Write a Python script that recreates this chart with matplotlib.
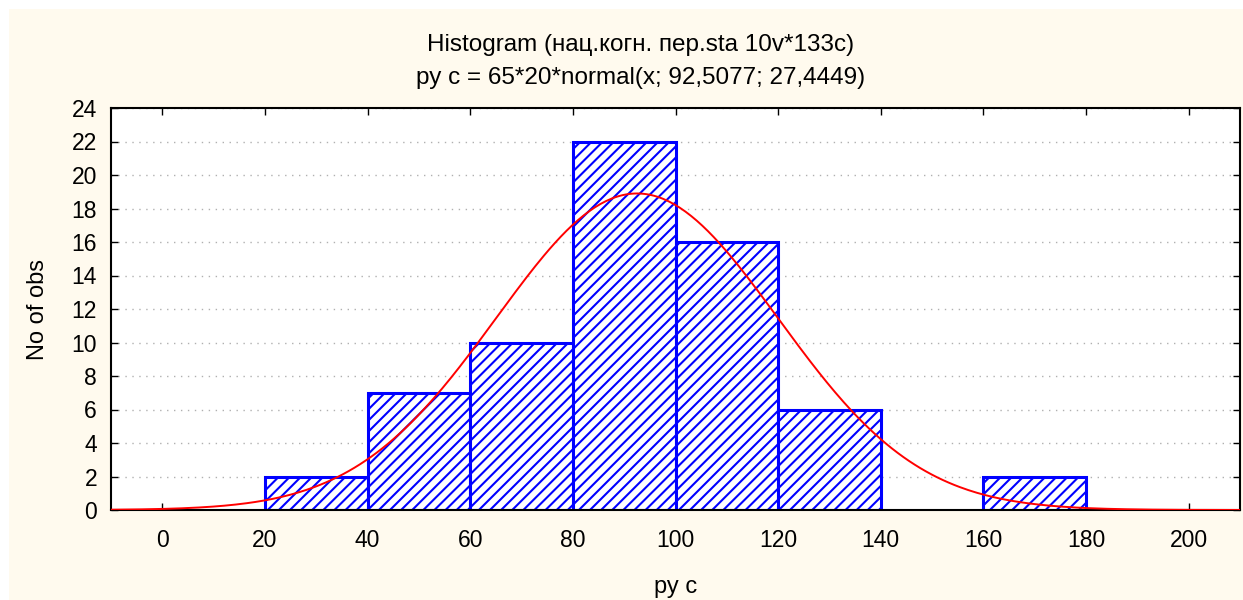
import numpy as np
import matplotlib.pyplot as plt
from matplotlib.patches import Rectangle

# histogram data
bin_left = [20, 40, 60, 80, 100, 120, 140, 160]
counts = [2, 7, 10, 22, 16, 6, 0, 2]
bin_width = 20

# fitted normal: N * width * normal(x; mean, sd)
n_obs = 65
mean = 92.5077
sd = 27.4449

x_ticks = [0, 20, 40, 60, 80, 100, 120, 140, 160, 180, 200]
y_ticks = list(range(0, 25, 2))

plt.rcParams['font.family'] = ['Liberation Sans', 'DejaVu Sans']
plt.rcParams['hatch.color'] = 'blue'
plt.rcParams['hatch.linewidth'] = 1.5

fig = plt.figure(figsize=(12.43, 6.0), dpi=100, facecolor='white')
fig.patches.append(Rectangle((9 / 1243, 0), 1, 1 - 9 / 600, transform=fig.transFigure,
                             facecolor='#fffaee', edgecolor='none', zorder=-10))

ax = fig.add_axes([111 / 1243, 90 / 600, 1129 / 1243, 402 / 600])
ax.set_facecolor('white')

# bars (skip empty bins)
lefts = [b for b, c in zip(bin_left, counts) if c > 0]
heights = [c for c in counts if c > 0]
ax.bar(lefts, heights, width=bin_width, align='edge', facecolor='white',
       edgecolor='blue', hatch='///', linewidth=2.2, zorder=2)

# normal curve
xs = np.linspace(-10, 210, 400)
ys = n_obs * bin_width * np.exp(-0.5 * ((xs - mean) / sd) ** 2) / (sd * np.sqrt(2 * np.pi))
ax.plot(xs, ys, color='red', linewidth=1.4, zorder=3)

ax.set_xlim(-10, 210)
ax.set_ylim(0, 24)
ax.set_xticks(x_ticks)
ax.set_yticks(y_ticks)
ax.tick_params(direction='in', top=True, right=True, length=5, width=1,
               labelsize=16.5, pad=10)
ax.tick_params(axis='x', pad=14)
ax.grid(axis='y', linestyle=(0, (1, 4)), color='#b0b0b0', linewidth=1, zorder=1)
ax.set_axisbelow(True)
for s in ax.spines.values():
    s.set_linewidth(1.5)
    s.set_color('black')

ax.set_xlabel('ру с', fontsize=17, labelpad=17)
ax.set_ylabel('No of obs', fontsize=17, labelpad=16)

fig.text(0.515, 1 - 45 / 600, 'Histogram (нац.когн. пер.sta 10v*133c)',
         ha='center', va='center', fontsize=17.5)
fig.text(0.515, 1 - 78 / 600, 'ру с = 65*20*normal(x; 92,5077; 27,4449)',
         ha='center', va='center', fontsize=17.5)

fig.savefig('out.png', dpi=100, facecolor=fig.get_facecolor())
